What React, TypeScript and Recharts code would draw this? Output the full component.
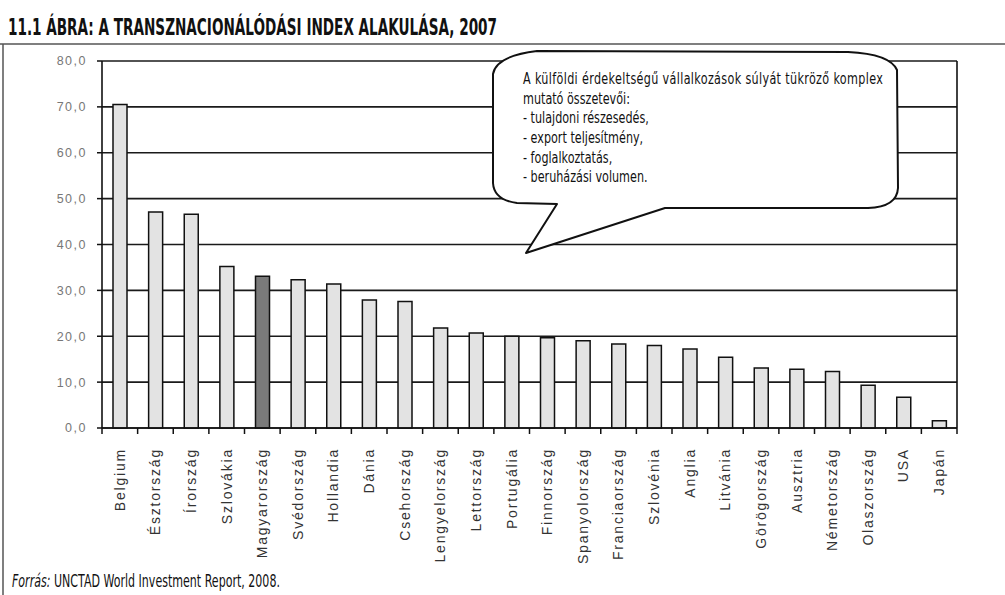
import { BarChart, Bar, XAxis, YAxis, CartesianGrid, Cell } from 'recharts';

const countries = [
  'Belgium', 'Észtország', 'Írország', 'Szlovákia', 'Magyarország', 'Svédország',
  'Hollandia', 'Dánia', 'Csehország', 'Lengyelország', 'Lettország', 'Portugália',
  'Finnország', 'Spanyolország', 'Franciaország', 'Szlovénia', 'Anglia', 'Litvánia',
  'Görögország', 'Ausztria', 'Németország', 'Olaszország', 'USA', 'Japán',
];

const indexValues = [
  70.5, 47.1, 46.6, 35.2, 33.1, 32.3, 31.4, 27.9, 27.6, 21.8, 20.7, 20.0,
  19.7, 19.0, 18.3, 18.0, 17.2, 15.4, 13.1, 12.8, 12.3, 9.3, 6.7, 1.6,
];

const yTicks = [0, 10, 20, 30, 40, 50, 60, 70, 80];

const highlighted = 'Magyarország';

const title = '11.1 ÁBRA: A TRANSZNACIONÁLÓDÁSI INDEX ALAKULÁSA, 2007';
const calloutLines = [
  'A külföldi érdekeltségű vállalkozások súlyát tükröző komplex',
  'mutató összetevői:',
  '- tulajdoni részesedés,',
  '- export teljesítmény,',
  '- foglalkoztatás,',
  '- beruházási volumen.',
];

const data = countries.map((name, i) => ({ name, value: indexValues[i] }));

const CountryTick = (props: any) => {
  const { x, y, payload, index } = props;
  const half = payload.offset ?? 17.8;
  return (
    <g>
      <line x1={x - half} x2={x - half} y1={y - 6} y2={y} stroke="#111" strokeWidth={1.5} />
      {index === countries.length - 1 && (
        <line x1={x + half} x2={x + half} y1={y - 6} y2={y} stroke="#111" strokeWidth={1.5} />
      )}
      <text
        x={x}
        y={y + 14}
        dy="0.35em"
        transform={`rotate(-90, ${x}, ${y + 14})`}
        textAnchor="end"
        fontFamily="'Liberation Sans', Arial, sans-serif"
        fontSize={14}
        letterSpacing={1.8}
        fill="#333"
      >
        {payload.value}
      </text>
    </g>
  );
};

export default function App() {
  return (
    <div style={{ position: 'absolute', left: 0, top: 0, width: 1005, height: 595, background: '#fff' }}>
      <BarChart width={1005} height={595} data={data} margin={{ top: 61, right: 47, left: 0, bottom: 0 }}>
        <CartesianGrid vertical={false} stroke="#1a1a1a" strokeWidth={1.6} />
        <XAxis
          dataKey="name"
          interval={0}
          height={167}
          tickLine={false}
          tickSize={6}
          tickMargin={0}
          axisLine={{ stroke: '#111', strokeWidth: 1.6 }}
          tick={<CountryTick />}
        />
        <YAxis
          domain={[0, 80]}
          ticks={yTicks}
          width={102}
          tickSize={5}
          tickMargin={10}
          tickFormatter={(v: number) => v.toFixed(1).replace('.', ',')}
          axisLine={{ stroke: '#111', strokeWidth: 1.6 }}
          tickLine={{ stroke: '#111', strokeWidth: 1.5 }}
          tick={{ fill: '#777', fontSize: 12.5, fontFamily: "'Liberation Sans', Arial, sans-serif", letterSpacing: 1.5 }}
        />
        <YAxis
          yAxisId="right"
          orientation="right"
          domain={[0, 80]}
          width={1}
          tick={false}
          tickLine={false}
          axisLine={{ stroke: '#111', strokeWidth: 1.6 }}
        />
        <Bar dataKey="value" barSize={14} stroke="#111" strokeWidth={1.5} isAnimationActive={false}>
          {data.map((d) => (
            <Cell key={d.name} fill={d.name === highlighted ? '#7a7a7a' : '#e3e3e3'} />
          ))}
        </Bar>
      </BarChart>

      <svg
        width={1005}
        height={595}
        style={{ position: 'absolute', left: 0, top: 0, pointerEvents: 'none' }}
      >
        <line x1={0} x2={1005} y1={44} y2={44} stroke="#555" strokeWidth={1.5} />
        <line x1={3} x2={3} y1={44} y2={595} stroke="#555" strokeWidth={1.5} />
        <text
          x={8}
          y={35}
          fontFamily="'DejaVu Sans', sans-serif"
          fontWeight="bold"
          fontSize={23}
          textLength={489}
          lengthAdjust="spacingAndGlyphs"
          fill="#111"
        >
          {title}
        </text>

        <path
          d="M 537 51 L 848 52 Q 890 54 897 70 L 898 188 Q 897 207 868 208 L 665 208 L 526 253 L 557 204 L 517 203 Q 494 200 493 183 L 493 74 Q 496 56 537 51 Z"
          fill="#fff"
          stroke="#111"
          strokeWidth={2}
          strokeLinejoin="round"
        />
        <g transform="translate(523, 0) scale(0.7, 1)">
          {calloutLines.map((line, i) => (
            <text
              key={i}
              x={0}
              y={84 + i * 19.7}
              fontFamily="'DejaVu Sans', sans-serif"
              fontSize={16}
              textLength={i === 0 ? 514 : undefined}
              lengthAdjust="spacing"
              fill="#111"
            >
              {line}
            </text>
          ))}
        </g>

        <g transform="translate(12, 587) scale(0.65, 1)">
          <text x={0} y={0} fontFamily="'DejaVu Sans', sans-serif" fontSize={17} fill="#111">
            <tspan fontStyle="italic">Forrás:</tspan>
            <tspan> UNCTAD World Investment Report, 2008.</tspan>
          </text>
        </g>
      </svg>
    </div>
  );
}
